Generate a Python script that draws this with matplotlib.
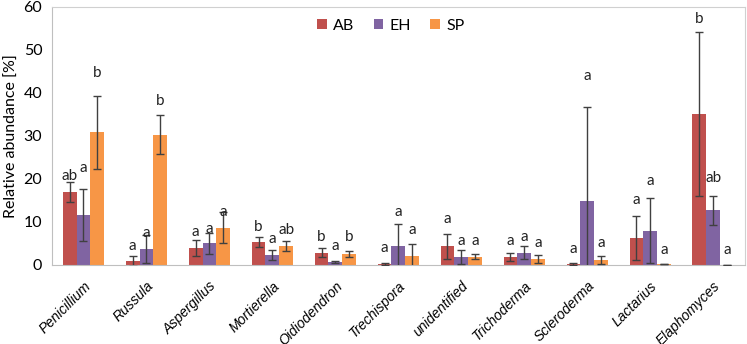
import numpy as np
import matplotlib
matplotlib.use("Agg")
import matplotlib.pyplot as plt
import matplotlib.transforms as mtransforms

plt.rcParams['font.family'] = ['Lato', 'DejaVu Sans']

### ---Data
genera = ['Penicillium', 'Russula', 'Aspergillus', 'Mortierella', 'Oidiodendron',
          'Trechispora', 'unidentified', 'Trichoderma', 'Scleroderma', 'Lactarius', 'Elaphomyces']
series = ['AB', 'EH', 'SP']

AB = [17.0, 0.9, 4.0, 5.3, 2.9, 0.3, 4.3, 1.9, 0.3, 6.3, 35.1]
EH = [11.6, 3.7, 5.0, 2.4, 0.7, 4.3, 1.9, 2.9, 14.8, 8.0, 12.7]
SP = [30.9, 30.3, 8.7, 4.4, 2.6, 2.0, 1.9, 1.4, 1.2, 0.15, 0.1]

AB_err = [2.4, 1.2, 1.8, 1.1, 1.1, 0.2, 2.9, 1.0, 0.2, 5.1, 19.1]
EH_err = [6.0, 3.2, 2.4, 1.2, 0.2, 5.2, 1.7, 1.6, 21.9, 7.5, 3.3]
SP_err = [8.5, 4.6, 3.7, 1.2, 0.7, 2.8, 0.6, 1.0, 1.0, 0.0, 0.0]

AB_let = ['ab', 'a', 'a', 'b', 'b', 'a', 'a', 'a', 'a', 'a', 'b']
EH_let = ['a', 'a', 'a', 'a', 'a', 'a', 'a', 'a', 'a', 'a', 'ab']
SP_let = ['b', 'b', 'a', 'ab', 'b', 'a', 'a', 'a', 'a', 'a', 'a']

# letter heights (centre, in %)
AB_let_y = [20.8, 4.5, 7.6, 8.9, 6.4, 3.9, 10.6, 5.6, 3.8, 15.0, 57.1]
EH_let_y = [22.5, 7.4, 8.4, 6.0, 4.3, 12.3, 5.65, 6.4, 44.0, 19.5, 20.3]
SP_let_y = [44.7, 38.1, 12.3, 8.1, 6.4, 8.1, 5.65, 5.0, 5.0, 3.6, 3.6]

colors = ['#C0504D', '#8064A2', '#F79646']

### ---Plot
fig = plt.figure(figsize=(7.47, 3.44), dpi=100)
ax = fig.add_axes([0.0696, 0.2297, 0.9274, 0.75])

x = np.arange(len(genera))
w = 0.22
vals = [AB, EH, SP]
errs = [AB_err, EH_err, SP_err]
lets = [AB_let, EH_let, SP_let]
let_y = [AB_let_y, EH_let_y, SP_let_y]

for i in range(3):
	xi = x + (i - 1) * w
	ax.bar(xi, vals[i], w, color=colors[i], label=series[i], zorder=2)
	ax.errorbar(xi, vals[i], yerr=errs[i], fmt='none', ecolor='#404040',
	            elinewidth=1, capsize=3, capthick=1, zorder=3)
	for xx, yy, t in zip(xi, let_y[i], lets[i]):
		ax.text(xx, yy, t, ha='center', va='center', fontsize=11, color='#222222', zorder=4)

ax.set_xlim(-0.5, len(genera) - 0.5)
ax.set_ylim(0, 60)
ax.set_yticks(range(0, 61, 10))
ax.set_xticks(x)
ax.set_xticklabels(genera, rotation=45, ha='right', rotation_mode='anchor',
                   fontstyle='italic', fontsize=10, family=['Liberation Sans'])
shift = mtransforms.ScaledTranslation(-8 / 100, 0, fig.dpi_scale_trans)
for lab in ax.get_xticklabels():
	lab.set_transform(lab.get_transform() + shift)
ax.tick_params(axis='y', labelsize=11.5, length=0, pad=7)
ax.tick_params(axis='x', length=0, pad=10)
ax.set_ylabel('Relative abundance [%]', fontsize=11.5, labelpad=3)

for s in ['top', 'right']:
	ax.spines[s].set_color('#D0D0D0')
ax.spines['left'].set_color('#BFBFBF')
ax.spines['bottom'].set_color('#BFBFBF')

ax.legend(loc='upper center', bbox_to_anchor=(0.489, 1.01), ncol=3, frameon=False,
          fontsize=11.5, handlelength=0.6, handleheight=0.6, columnspacing=1.2,
          handletextpad=0.4)

plt.savefig('out.png', dpi=100)
